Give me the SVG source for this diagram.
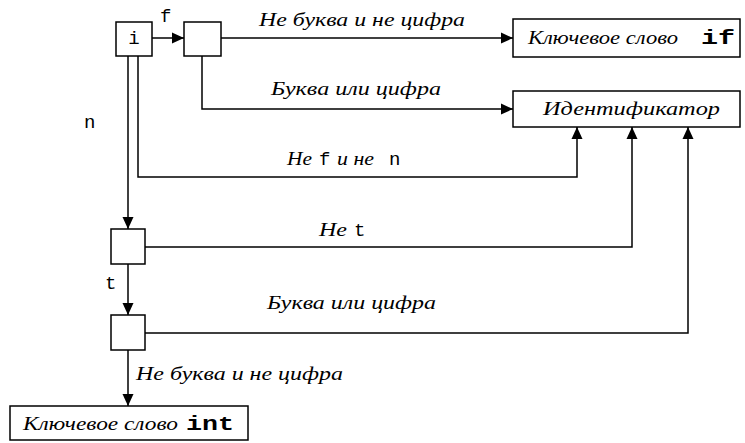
<svg xmlns="http://www.w3.org/2000/svg" width="745" height="443" viewBox="0 0 745 443">
<style>
.box{fill:#fff;stroke:#000;stroke-width:1.5}
.ln{fill:none;stroke:#000;stroke-width:1.5}
.it{font-family:"Liberation Serif","Times New Roman",serif;font-style:italic;font-size:19px;fill:#000}
.mono{font-family:"Liberation Mono","Courier New",monospace;font-size:19px;fill:#000}
.mb{font-family:"Liberation Mono","Courier New",monospace;font-size:20px;font-weight:bold;fill:#000}
</style>
<defs>
<marker id="ah" markerWidth="12" markerHeight="12" viewBox="0 0 12 12" refX="12" refY="6" orient="auto" markerUnits="userSpaceOnUse">
<path d="M0,0.5 L12,6 L0,11.5 Z" fill="#000"/>
</marker>
</defs>
<g id="connectors">
<line class="ln" x1="152" y1="38" x2="184" y2="38" marker-end="url(#ah)"/>
<line class="ln" x1="221" y1="38" x2="513" y2="38" marker-end="url(#ah)"/>
<polyline class="ln" points="202,56 202,109 513,109" marker-end="url(#ah)"/>
<line class="ln" x1="128" y1="56" x2="128" y2="229" marker-end="url(#ah)"/>
<polyline class="ln" points="138,56 138,177 577,177 577,127" marker-end="url(#ah)"/>
<polyline class="ln" points="145,247 632,247 632,127" marker-end="url(#ah)"/>
<line class="ln" x1="128" y1="264" x2="128" y2="315" marker-end="url(#ah)"/>
<polyline class="ln" points="145,333 688,333 688,127" marker-end="url(#ah)"/>
<line class="ln" x1="128" y1="350" x2="128" y2="406" marker-end="url(#ah)"/>
<text class="mono" x="160" y="22">f</text>
<text class="it" x="259" y="26" textLength="206" lengthAdjust="spacingAndGlyphs">Не буква и не цифра</text>
<text class="it" x="271" y="95" textLength="170" lengthAdjust="spacingAndGlyphs">Буква или цифра</text>
<text class="mono" x="84" y="128">n</text>
<text class="it" x="287" y="165" textLength="25" lengthAdjust="spacingAndGlyphs">Не</text>
<text class="mono" x="319" y="165">f</text>
<text class="it" x="337" y="165" textLength="37" lengthAdjust="spacingAndGlyphs">и не</text>
<text class="mono" x="389" y="165">n</text>
<text class="it" x="319" y="236" textLength="28" lengthAdjust="spacingAndGlyphs">Не</text>
<text class="mono" x="354" y="236">t</text>
<text class="mono" x="105" y="289">t</text>
<text class="it" x="267" y="309" textLength="169" lengthAdjust="spacingAndGlyphs">Буква или цифра</text>
<text class="it" x="136" y="380" textLength="207" lengthAdjust="spacingAndGlyphs">Не буква и не цифра</text>
</g>
<g id="s0"><rect class="box" x="116" y="22" width="36" height="34"/><text class="mono" x="134" y="44" text-anchor="middle">i</text></g>
<g id="s1"><rect class="box" x="184" y="22" width="37" height="34"/></g>
<g id="kw-if"><rect class="box" x="513" y="19" width="227" height="38"/><text class="it" x="528" y="44" textLength="150" lengthAdjust="spacingAndGlyphs">Ключевое слово</text><text class="mb" x="701" y="44" textLength="34" lengthAdjust="spacingAndGlyphs">if</text></g>
<g id="ident"><rect class="box" x="513" y="91" width="227" height="36"/><text class="it" x="543" y="115" textLength="177" lengthAdjust="spacingAndGlyphs">Идентификатор</text></g>
<g id="s2"><rect class="box" x="111" y="229" width="34" height="35"/></g>
<g id="s3"><rect class="box" x="111" y="315" width="34" height="35"/></g>
<g id="kw-int"><rect class="box" x="10" y="406" width="238" height="34"/><text class="it" x="23" y="430" textLength="155" lengthAdjust="spacingAndGlyphs">Ключевое слово</text><text class="mb" x="186" y="430" textLength="48" lengthAdjust="spacingAndGlyphs">int</text></g>
</svg>
